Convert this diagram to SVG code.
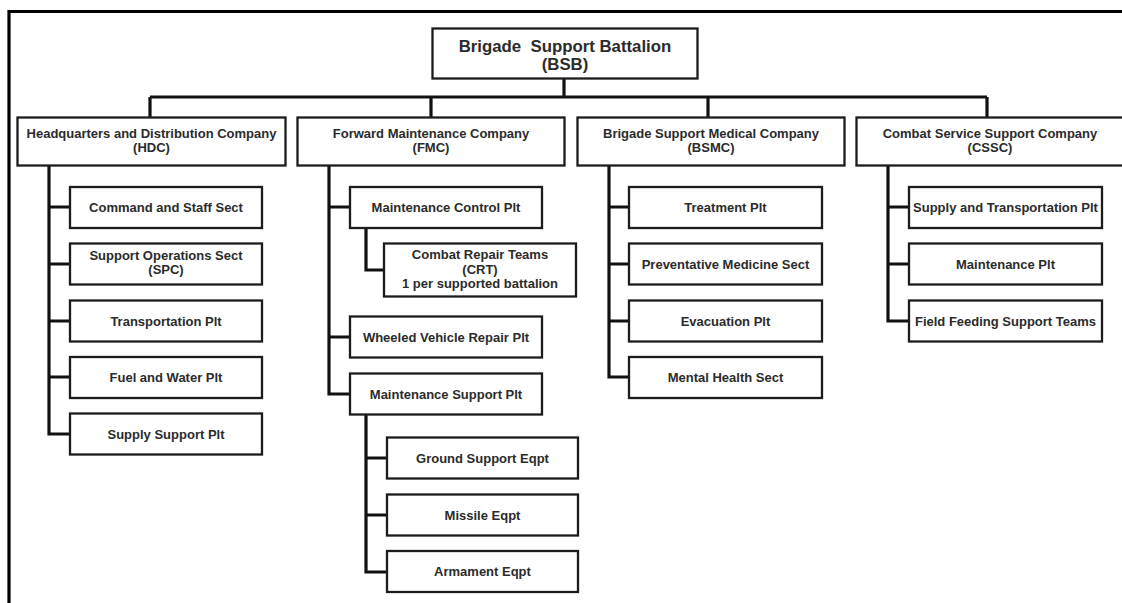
<svg xmlns="http://www.w3.org/2000/svg" width="1122" height="603" viewBox="0 0 1122 603">
<style>
.box{fill:#fff;stroke:#1c1c1c;stroke-width:2.3}
.t{font-family:"Liberation Sans",Arial,sans-serif;font-weight:bold;fill:#2b2b2b;text-anchor:middle}
.top{font-size:16.8px}
.co{font-size:13px}
.ch{font-size:13px}
.ln{fill:none;stroke:#111;stroke-width:3.2}
.frame{fill:none;stroke:#000;stroke-width:3.2}
</style>
<rect width="1122" height="603" fill="#fff"/>
<path class="frame" d="M9,603 V11.5 H1122"/>
<g id="connectors">
<path class="ln" d="M564,79 V97 M150,97 H987 M150,97 V117 M431,97 V117 M708,97 V117 M987,97 V117"/>
<path class="ln" d="M49,166 V434 H70 M49,207 H70 M49,264 H70 M49,321 H70 M49,377 H70"/>
<path class="ln" d="M329,166 V394 H350 M329,207 H350 M329,337 H350"/>
<path class="ln" d="M366,228 V270 H384"/>
<path class="ln" d="M366,415 V572 H387 M366,458 H387 M366,515 H387"/>
<path class="ln" d="M609,166 V377 H629 M609,207 H629 M609,264 H629 M609,321 H629"/>
<path class="ln" d="M888,166 V321 H909 M888,207 H909 M888,264 H909"/>
</g>
<g id="bsb"><rect class="box" x="432.5" y="28.5" width="265" height="50"/><text class="t top" x="565" y="51.5" xml:space="preserve">Brigade  Support Battalion</text><text class="t top" x="565" y="70">(BSB)</text></g>
<g id="hdc"><rect class="box" x="17.5" y="117.5" width="268" height="48"/><text class="t co" x="151.5" y="138.3">Headquarters and Distribution Company</text><text class="t co" x="151.5" y="152">(HDC)</text></g>
<g id="fmc"><rect class="box" x="297.5" y="117.5" width="267" height="48"/><text class="t co" x="431" y="138.3">Forward Maintenance Company</text><text class="t co" x="431" y="152">(FMC)</text></g>
<g id="bsmc"><rect class="box" x="577.5" y="117.5" width="267" height="48"/><text class="t co" x="711" y="138.3">Brigade Support Medical Company</text><text class="t co" x="711" y="152">(BSMC)</text></g>
<g id="cssc"><rect class="box" x="856.5" y="117.5" width="280" height="48"/><text class="t co" x="990" y="138.3">Combat Service Support Company</text><text class="t co" x="990" y="152">(CSSC)</text></g>
<g id="hdc1"><rect class="box" x="70" y="187" width="192" height="41"/><text class="t ch" x="166" y="212">Command and Staff Sect</text></g>
<g id="hdc2"><rect class="box" x="70" y="243.5" width="192" height="41"/><text class="t ch" x="166" y="260">Support Operations Sect</text><text class="t ch" x="166" y="274">(SPC)</text></g>
<g id="hdc3"><rect class="box" x="70" y="300.5" width="192" height="41"/><text class="t ch" x="166" y="325.5">Transportation Plt</text></g>
<g id="hdc4"><rect class="box" x="70" y="357" width="192" height="41"/><text class="t ch" x="166" y="382">Fuel and Water Plt</text></g>
<g id="hdc5"><rect class="box" x="70" y="413.5" width="192" height="41"/><text class="t ch" x="166" y="438.5">Supply Support Plt</text></g>
<g id="fmc1"><rect class="box" x="350" y="187" width="192" height="41"/><text class="t ch" x="446" y="212">Maintenance Control Plt</text></g>
<g id="crt"><rect class="box" x="384" y="243.5" width="192" height="53"/><text class="t ch" x="480" y="259">Combat Repair Teams</text><text class="t ch" x="480" y="273.5">(CRT)</text><text class="t ch" x="480" y="288">1 per supported battalion</text></g>
<g id="fmc2"><rect class="box" x="350" y="316.5" width="192" height="41"/><text class="t ch" x="446" y="341.5">Wheeled Vehicle Repair Plt</text></g>
<g id="fmc3"><rect class="box" x="350" y="373.5" width="192" height="41"/><text class="t ch" x="446" y="398.5">Maintenance Support Plt</text></g>
<g id="fmc31"><rect class="box" x="387" y="437.5" width="191" height="41"/><text class="t ch" x="482.5" y="462.5">Ground Support Eqpt</text></g>
<g id="fmc32"><rect class="box" x="387" y="494.5" width="191" height="41"/><text class="t ch" x="482.5" y="519.5">Missile Eqpt</text></g>
<g id="fmc33"><rect class="box" x="387" y="551" width="191" height="41"/><text class="t ch" x="482.5" y="576">Armament Eqpt</text></g>
<g id="bsmc1"><rect class="box" x="629" y="187" width="193" height="41"/><text class="t ch" x="725.5" y="212">Treatment Plt</text></g>
<g id="bsmc2"><rect class="box" x="629" y="243.5" width="193" height="41"/><text class="t ch" x="725.5" y="268.5">Preventative Medicine Sect</text></g>
<g id="bsmc3"><rect class="box" x="629" y="300.5" width="193" height="41"/><text class="t ch" x="725.5" y="325.5">Evacuation Plt</text></g>
<g id="bsmc4"><rect class="box" x="629" y="357" width="193" height="41"/><text class="t ch" x="725.5" y="382">Mental Health Sect</text></g>
<g id="cssc1"><rect class="box" x="909" y="187" width="193" height="41"/><text class="t ch" x="1005.5" y="212">Supply and Transportation Plt</text></g>
<g id="cssc2"><rect class="box" x="909" y="243.5" width="193" height="41"/><text class="t ch" x="1005.5" y="268.5">Maintenance Plt</text></g>
<g id="cssc3"><rect class="box" x="909" y="300.5" width="193" height="41"/><text class="t ch" x="1005.5" y="325.5">Field Feeding Support Teams</text></g>
</svg>
